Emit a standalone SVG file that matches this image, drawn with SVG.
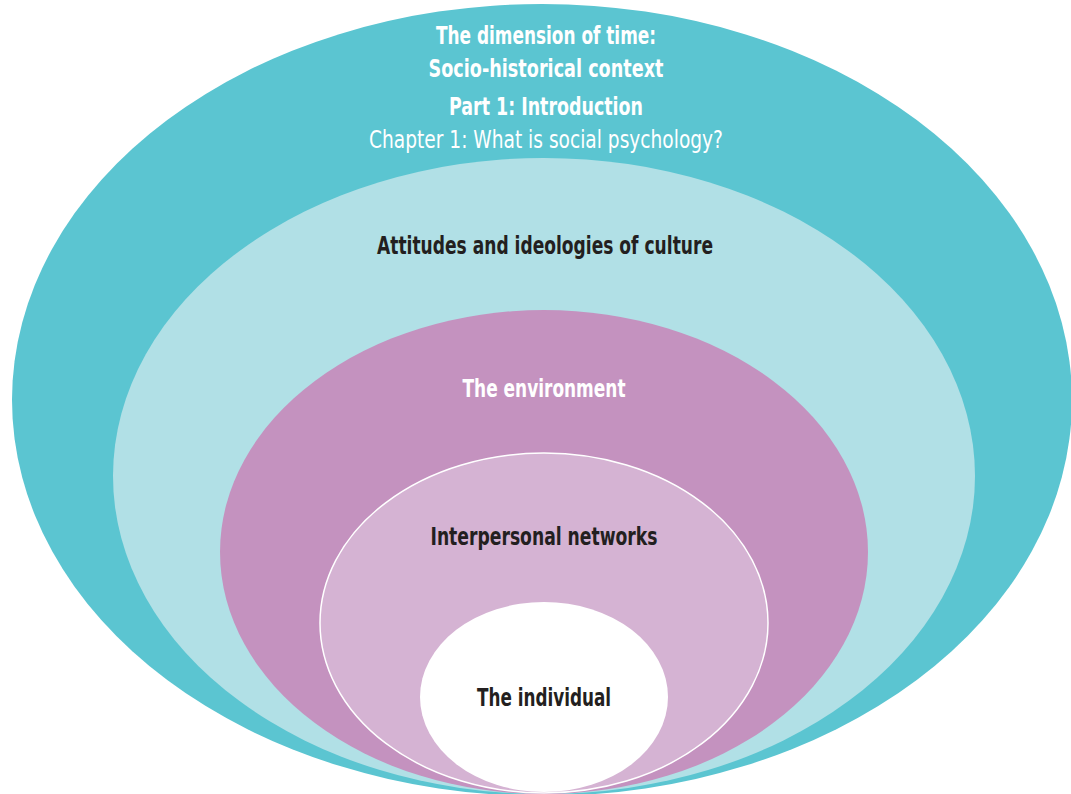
<svg xmlns="http://www.w3.org/2000/svg" width="1071" height="794" viewBox="0 0 1071 794">
  <style>
    text { font-family: "Liberation Sans Narrow", "DejaVu Sans Condensed", "Liberation Sans", sans-serif; text-anchor: middle; font-size: 24px; }
    .b { font-weight: bold; }
    .w { fill: #ffffff; }
    .d { fill: #231f20; }
  </style>
  <rect width="1071" height="794" fill="#ffffff"/>
  <g id="time">
    <ellipse cx="542" cy="400" rx="530" ry="396" fill="#5bc5d1"/>
    <text class="b w" x="546" y="44" textLength="220" lengthAdjust="spacingAndGlyphs">The dimension of time:</text>
    <text class="b w" x="546" y="77" textLength="235" lengthAdjust="spacingAndGlyphs">Socio-historical context</text>
    <text class="b w" x="546" y="115" textLength="194" lengthAdjust="spacingAndGlyphs">Part 1: Introduction</text>
    <text class="w" x="546" y="148" textLength="354" lengthAdjust="spacingAndGlyphs">Chapter 1: What is social psychology?</text>
  </g>
  <g id="culture">
    <ellipse cx="544" cy="476" rx="431" ry="318" fill="#b1e0e6"/>
    <text class="b d" x="545" y="254" textLength="336" lengthAdjust="spacingAndGlyphs">Attitudes and ideologies of culture</text>
  </g>
  <g id="environment">
    <ellipse cx="544" cy="552" rx="324" ry="242" fill="#c492bf"/>
    <text class="b w" x="544" y="397" textLength="163" lengthAdjust="spacingAndGlyphs">The environment</text>
  </g>
  <g id="networks">
    <ellipse cx="544" cy="623" rx="224" ry="170" fill="#d5b3d3" stroke="#ffffff" stroke-width="1.5"/>
    <text class="b d" x="544" y="545" textLength="227" lengthAdjust="spacingAndGlyphs">Interpersonal networks</text>
  </g>
  <g id="individual">
    <ellipse cx="544" cy="697" rx="124" ry="95" fill="#ffffff"/>
    <text class="b d" x="544" y="706" textLength="134" lengthAdjust="spacingAndGlyphs">The individual</text>
  </g>
</svg>
